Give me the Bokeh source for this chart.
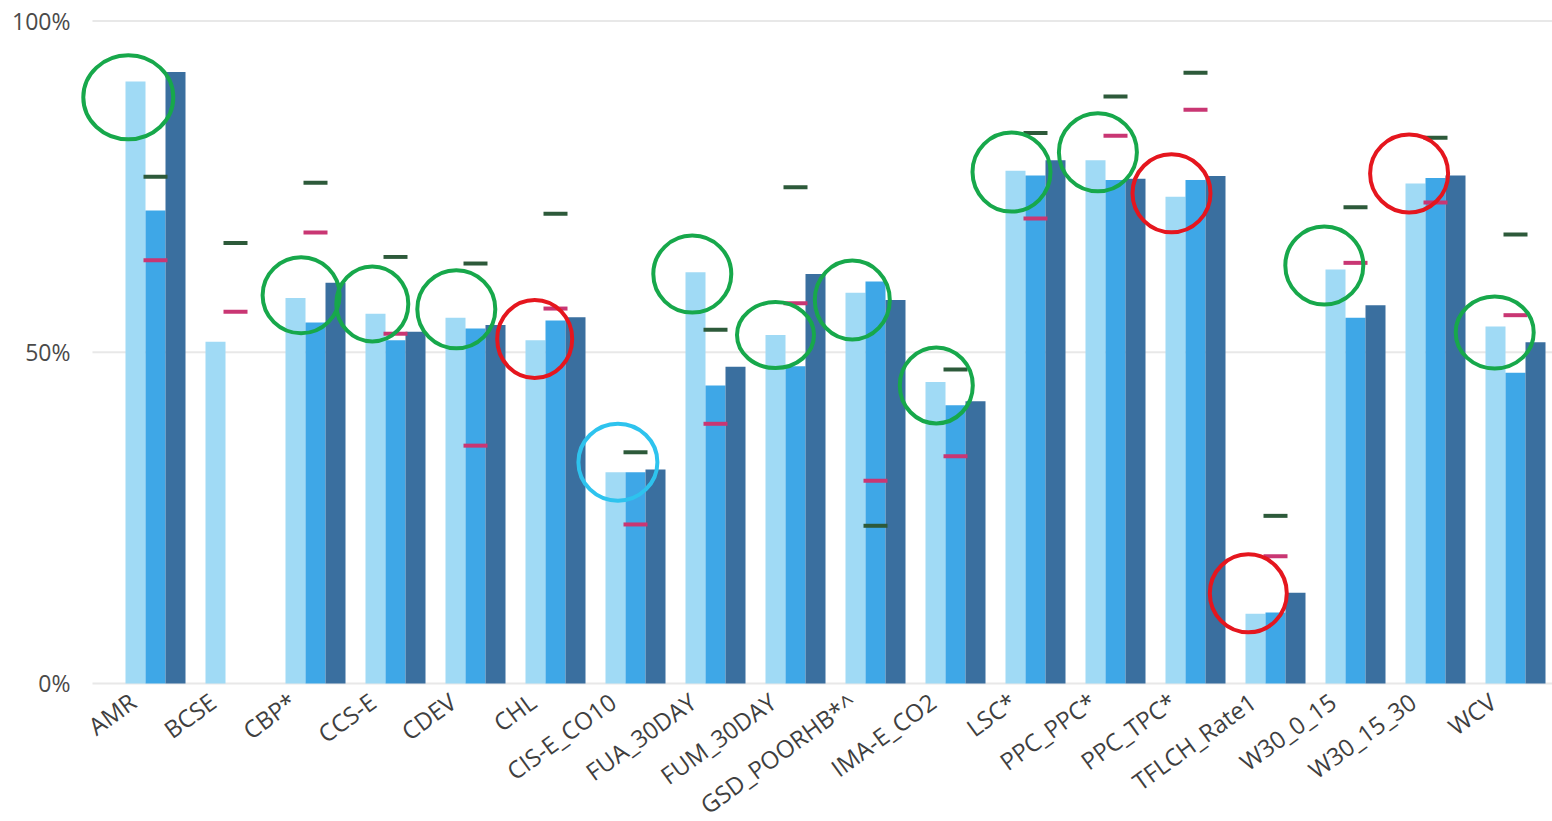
from bokeh.plotting import figure
from bokeh.models import ColumnDataSource, Range1d, FixedTicker, PrintfTickFormatter
from bokeh.core.properties import value
from bokeh.embed import file_html
from bokeh.resources import INLINE

nan = float("nan")

categories = ["AMR", "BCSE", "CBP*", "CCS-E", "CDEV", "CHL", "CIS-E_CO10", "FUA_30DAY",
              "FUM_30DAY", "GSD_POORHB*^", "IMA-E_CO2", "LSC*", "PPC_PPC*", "PPC_TPC*",
              "TFLCH_Rate1", "W30_0_15", "W30_15_30", "WCV"]
series_light = [90.9, 51.6, 58.2, 55.8, 55.2, 51.8, 31.9, 62.1, 52.6, 59.0, 45.5, 77.4, 79.0, 73.5, 10.5, 62.5, 75.5, 53.9]
series_mid = [71.4, nan, 54.5, 51.8, 53.6, 54.8, 31.9, 45.0, 47.9, 60.7, 42.0, 76.7, 76.0, 76.0, 10.7, 55.2, 76.3, 46.9]
series_dark = [92.3, nan, 60.5, 53.1, 54.1, 55.3, 32.3, 47.8, 61.8, 57.9, 42.6, 79.0, 76.2, 76.6, 13.7, 57.1, 76.7, 51.5]
target_green = [76.5, 66.5, 75.6, 64.4, 63.4, 70.9, 34.9, 53.4, 74.9, 23.8, 47.4, 83.1, 88.6, 92.2, 25.3, 71.9, 82.4, 67.8]
target_pink = [63.9, 56.1, 68.1, 52.8, 35.9, 56.6, 24.0, 39.2, 57.4, 30.6, 34.3, 70.2, 82.7, 86.6, 19.2, 63.5, 72.6, 55.6]
y_ticks = [0, 50, 100]

# annotation circles: category, value they mark, colour
circle_cats = ["AMR", "CBP*", "CCS-E", "CDEV", "CHL", "CIS-E_CO10", "FUA_30DAY", "FUM_30DAY",
               "GSD_POORHB*^", "IMA-E_CO2", "LSC*", "PPC_PPC*", "PPC_TPC*", "TFLCH_Rate1",
               "W30_0_15", "W30_15_30", "WCV"]
circle_vals = [88.5, 58.6, 57.3, 56.5, 52.0, 33.4, 61.8, 52.6, 57.9, 45.0, 77.2, 80.2, 74.0, 13.6, 63.1, 77.0, 53.0]
circle_kind = ["good", "good", "good", "good", "bad", "neutral", "good", "good", "good", "good",
               "good", "good", "bad", "bad", "good", "bad", "good"]
circle_shift = [-0.34, -0.18, -0.29, -0.24, -0.26, -0.22, -0.29, -0.25, -0.29, -0.24, -0.30, -0.22, -0.30, -0.34, -0.39, -0.33, -0.26]
circle_w = [90, 77, 72, 78, 75, 79, 78, 77, 75, 73, 78, 78, 78, 77, 78, 78, 78]
circle_h = [84, 76, 75, 78, 78, 77, 77, 66, 79, 76, 79, 78, 78, 78, 78, 78, 72]

kind_color = {"good": "#17A84B", "bad": "#E5161E", "neutral": "#2EC3EE"}

idx = list(range(len(categories)))
bar_w = 0.25
x_lo, x_hi = -0.9375, 17.4625
grid_start = -0.7875
label_shift = -0.285
label_level = -2.26      # category names sit just under the 0% line
y_lo, y_hi = -20.85, 101

p = figure(width=1552, height=821, output_backend="svg", toolbar_location=None,
           x_range=Range1d(x_lo, x_hi), y_range=Range1d(y_lo, y_hi), x_axis_location=None,
           min_border_left=80, min_border_right=0, min_border_top=14, min_border_bottom=0)
p.outline_line_color = None
p.background_fill_color = "white"

# gridlines (start a little right of the frame edge, as in the original)
p.segment(x0=[grid_start] * len(y_ticks), x1=[x_hi] * len(y_ticks), y0=y_ticks, y1=y_ticks,
          line_color="#E8E8E8", line_width=2)

src = ColumnDataSource(dict(
    x1=[i - bar_w for i in idx], x2=idx, x3=[i + bar_w for i in idx],
    s1=series_light, s2=series_mid, s3=series_dark,
    g=target_green, pk=target_pink))

p.vbar(x="x1", top="s1", bottom=0, width=bar_w, source=src, fill_color="#A0DAF5", line_color=None)
p.vbar(x="x2", top="s2", bottom=0, width=bar_w, source=src, fill_color="#3EA7E7", line_color=None)
p.vbar(x="x3", top="s3", bottom=0, width=bar_w, source=src, fill_color="#3A6F9F", line_color=None)

p.rect(x="x2", y="g", width=0.3, height=4, height_units="screen", source=src,
       fill_color="#2D5A3A", line_color=None)
p.rect(x="x2", y="pk", width=0.3, height=4, height_units="screen", source=src,
       fill_color="#C93673", line_color=None)

csrc = ColumnDataSource(dict(
    x=[categories.index(c) + s for c, s in zip(circle_cats, circle_shift)],
    y=circle_vals, w=circle_w, h=circle_h,
    c=[kind_color[k] for k in circle_kind]))
p.ellipse(x="x", y="y", width="w", height="h", width_units="screen", height_units="screen",
          source=csrc, fill_color=None, line_color="c", line_width=4)

# category names, rotated, under each group
lsrc = ColumnDataSource(dict(x=[i + label_shift for i in idx], y=[label_level] * len(idx), t=categories))
p.text(x="x", y="y", text="t", source=lsrc, angle=0.63,
       text_align="right", text_baseline="middle",
       text_font=value("Open Sans"), text_font_size="24px", text_color="#3f3f3f")

# y axis
p.yaxis.ticker = FixedTicker(ticks=y_ticks)
p.yaxis.formatter = PrintfTickFormatter(format="%d%%")
p.yaxis.axis_line_color = None
p.yaxis.major_tick_line_color = None
p.yaxis.minor_tick_line_color = None
p.yaxis.major_label_text_font = "Open Sans"
p.yaxis.major_label_text_font_size = "23px"
p.yaxis.major_label_text_color = "#4a4a4a"
p.yaxis.major_label_standoff = 4
p.grid.grid_line_color = None

open("out.html", "w").write(file_html(p, INLINE))
